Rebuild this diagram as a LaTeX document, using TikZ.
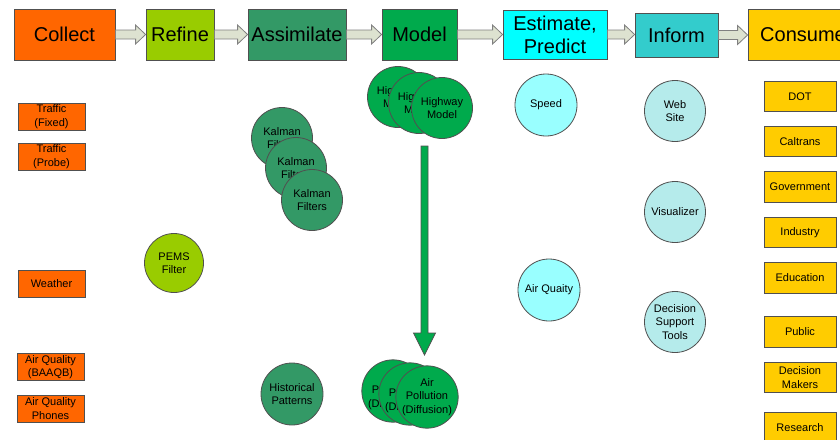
\documentclass[tikz,border=0pt]{standalone}
\usepackage{fontspec}
\setmainfont{Liberation Sans}
\usetikzlibrary{calc}
\definecolor{cOrange}{HTML}{FF6600}
\definecolor{cLime}{HTML}{99CC00}
\definecolor{cSea}{HTML}{339966}
\definecolor{cGreen}{RGB}{0,170,76}
\definecolor{cCyan}{HTML}{00FFFF}
\definecolor{cTeal}{HTML}{33CCCC}
\definecolor{cGold}{HTML}{FFCC00}
\definecolor{cLightCyan}{HTML}{99FFFF}
\definecolor{cPaleTeal}{HTML}{B5EBEB}
\definecolor{cArrow}{HTML}{DDE2D0}
\definecolor{cEdge}{HTML}{505050}
\tikzset{
  header/.style={draw=cEdge, line width=0.8pt, inner sep=0pt, align=center,
    font=\fontsize{20}{23}\selectfont},
  smallbox/.style={draw=cEdge, line width=0.8pt, inner sep=0pt, align=center,
    font=\fontsize{11}{13.5}\selectfont},
  srcbox/.style={smallbox, fill=cOrange, minimum width=67pt, minimum height=27pt},
  userbox/.style={smallbox, fill=cGold, minimum width=72pt, minimum height=30.5pt},
  bubble/.style={circle, draw=cEdge, line width=0.8pt, inner sep=0pt, align=center,
    minimum size=61pt, font=\fontsize{11}{13.5}\selectfont},
  blockarrow/.style={draw=gray, fill=cArrow, line width=0.8pt, line join=miter},
  vblock/.style={draw=cEdge, fill=cGreen, line width=0.8pt, line join=miter}
}
\begin{document}
\begin{tikzpicture}[x=1pt,y=-1pt]
\useasboundingbox (0,0) rectangle (840,439);
% header boxes
\node[header, fill=cOrange, minimum width=101pt, minimum height=51pt] (collect) at (64.5,34.5) {Collect};
\node[header, fill=cLime, minimum width=68pt, minimum height=51pt] (refine) at (180,34.5) {Refine};
\node[header, fill=cSea, minimum width=98pt, minimum height=51pt] (assim) at (297,34.5) {Assimilate};
\node[header, fill=cGreen, minimum width=75pt, minimum height=51pt] (model) at (419.5,34.5) {Model};
\node[header, fill=cCyan, minimum width=104pt, minimum height=49pt] (est) at (555,34.5) {Estimate,\\Predict};
\node[header, fill=cTeal, minimum width=83pt, minimum height=44pt] (inform) at (676.5,35) {Inform};
\node[header, fill=cGold, minimum width=110pt, minimum height=51pt] (consume) at (803,34.5) {Consume};
\foreach \a/\b in {collect/refine, refine/assim, assim/model, model/est, est/inform, inform/consume}{
  \draw[blockarrow] let \p1=(\a.east), \p2=(\b.west) in
    (\x1,\y1+4.5pt) -- (\x2-10pt,\y1+4.5pt) -- (\x2-10pt,\y1+9.5pt) -- (\x2,\y1)
    -- (\x2-10pt,\y1-9.5pt) -- (\x2-10pt,\y1-4.5pt) -- (\x1,\y1-4.5pt) -- cycle;
}
% sources
\node[srcbox] (tfix) at (51.5,116.5) {Traffic\\(Fixed)};
\node[srcbox] (tprobe) at (51.5,156.5) {Traffic\\(Probe)};
\node[srcbox] (weather) at (51.5,283.5) {Weather};
\node[srcbox] (aqb) at (50.5,367) {Air Quality\\(BAAQB)};
\node[srcbox] (aqp) at (50.5,408.5) {Air Quality\\Phones};
% refine
\node[bubble, fill=cLime, minimum size=59pt] (pems) at (174,263) {PEMS\\Filter};
% assimilate
\node[bubble, fill=cSea] (kal1) at (282,138) {Kalman\\Filters};
\node[bubble, fill=cSea] (kal2) at (296,168) {Kalman\\Filters};
\node[bubble, fill=cSea] (kal3) at (312,200) {Kalman\\Filters};
\node[bubble, fill=cSea, minimum size=62pt] (hist) at (292,394) {Historical\\Patterns};
% model
\node[bubble, fill=cGreen] (hw1) at (398,97) {Highway\\Model};
\node[bubble, fill=cGreen] (hw2) at (419,103) {Highway\\Model};
\node[bubble, fill=cGreen] (hw3) at (442,108) {Highway\\Model};
\node[bubble, fill=cGreen] (ap1) at (393,391) {Air\\Pollution\\(Diffusion)};
\node[bubble, fill=cGreen] (ap2) at (410,394) {Air\\Pollution\\(Diffusion)};
\node[bubble, fill=cGreen] (ap3) at (427,397) {Air\\Pollution\\(Diffusion)};
\coordinate (vtop) at (424.5,146);
\coordinate (vbot) at (424.5,355);
\draw[vblock] let \p1=(vtop), \p2=(vbot) in
  (\x1-3.5pt,\y1) -- (\x1-3.5pt,\y2+22pt) -- (\x1-11pt,\y2+22pt) -- (\x2,\y2)
  -- (\x1+11pt,\y2+22pt) -- (\x1+3.5pt,\y2+22pt) -- (\x1+3.5pt,\y1) -- cycle;
% estimate
\node[bubble, fill=cLightCyan, minimum size=62pt] (speed) at (546,105) {Speed};
\node[bubble, fill=cLightCyan, minimum size=62pt] (airq) at (549,290) {Air Quaity};
% inform
\node[bubble, fill=cPaleTeal] (web) at (675,111) {Web\\Site};
\node[bubble, fill=cPaleTeal] (vis) at (675,212) {Visualizer};
\node[bubble, fill=cPaleTeal] (dst) at (675,322) {Decision\\Support\\Tools};
% consumers
\node[userbox] (dot) at (800,96.5) {DOT};
\node[userbox] (caltrans) at (800,141.5) {Caltrans};
\node[userbox] (gov) at (800,187) {Government};
\node[userbox] (industry) at (800,232.5) {Industry};
\node[userbox] (edu) at (800,278) {Education};
\node[userbox] (public) at (800,332) {Public};
\node[userbox] (dm) at (800,377.5) {Decision\\Makers};
\node[userbox] (research) at (800,428) {Research};
\end{tikzpicture}
\end{document}
